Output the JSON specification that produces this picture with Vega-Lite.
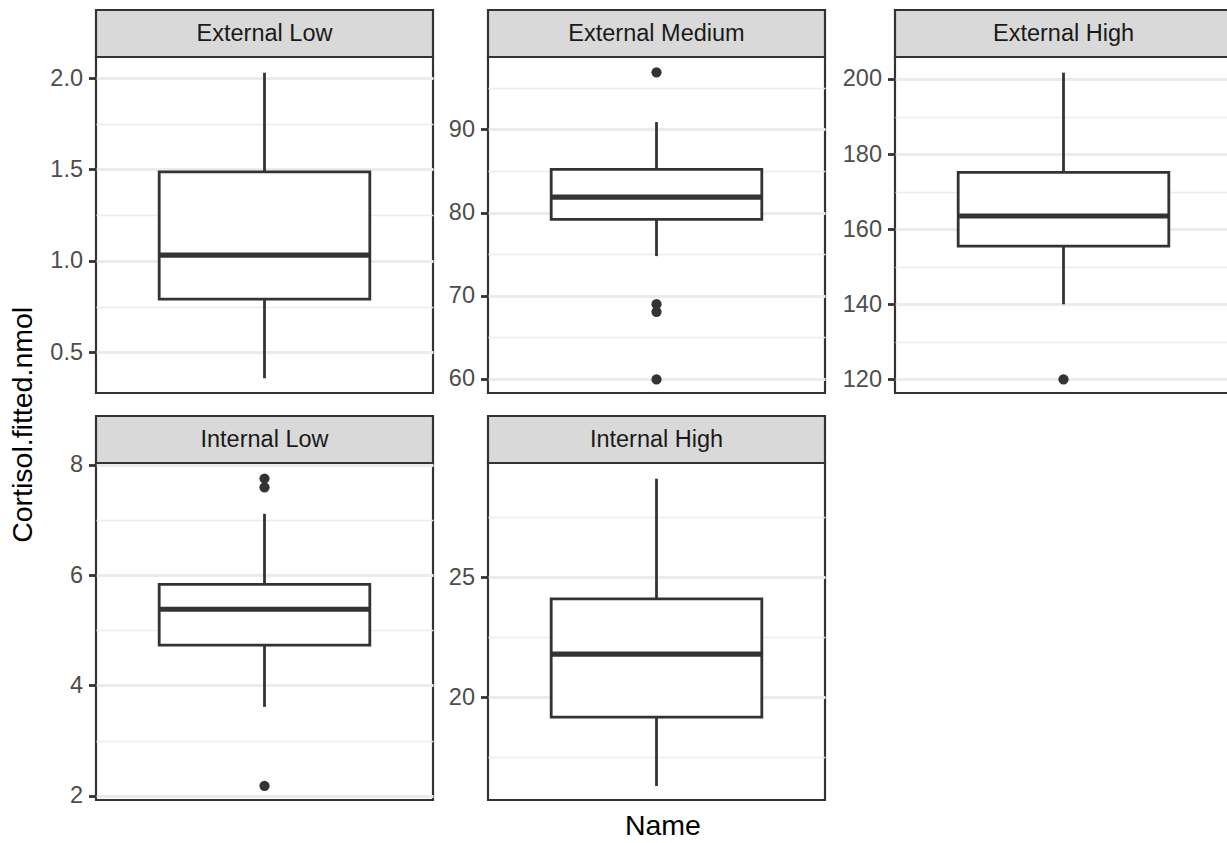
{
  "$schema": "https://vega.github.io/schema/vega-lite/v6.json",
  "padding": {"left": 9, "top": 8, "right": 0, "bottom": 0},
  "background": "white",
  "config": {
    "font": "Liberation Sans",
    "view": {"stroke": "#333333", "strokeWidth": 2.2, "fill": "white"}
  },
  "datasets": {
    "stats": [
      {"panel": "External Low", "lower": 0.358, "q1": 0.79, "median": 1.031, "q3": 1.487, "upper": 2.029},
      {"panel": "External Medium", "lower": 74.76, "q1": 79.17, "median": 81.86, "q3": 85.19, "upper": 90.88},
      {"panel": "External High", "lower": 139.98, "q1": 155.5, "median": 163.5, "q3": 175.15, "upper": 201.68},
      {"panel": "Internal Low", "lower": 3.61, "q1": 4.73, "median": 5.38, "q3": 5.83, "upper": 7.11},
      {"panel": "Internal High", "lower": 16.3, "q1": 19.17, "median": 21.8, "q3": 24.1, "upper": 29.1}
    ],
    "outliers": [
      {"panel": "External Medium", "value": 96.86},
      {"panel": "External Medium", "value": 68.98},
      {"panel": "External Medium", "value": 68.06},
      {"panel": "External Medium", "value": 59.93},
      {"panel": "External High", "value": 120.0},
      {"panel": "Internal Low", "value": 7.75},
      {"panel": "Internal Low", "value": 7.59},
      {"panel": "Internal Low", "value": 2.18}
    ]
  },
  "title": {"text": "Cortisol.fitted.nmol", "orient": "left", "anchor": "middle", "fontSize": 28.5, "fontWeight": "normal", "color": "#000000", "offset": 11},
  "vconcat": [
    {
      "title": {"text": "Name", "orient": "bottom", "anchor": "middle", "fontSize": 28.5, "fontWeight": "normal", "color": "#000000", "offset": 4, "dx": 22},
      "spacing": 19,
      "vconcat": [
        {
          "spacing": 14,
          "hconcat": [
            {
              "spacing": 11,
              "hconcat": [
                {
                  "spacing": 0, "bounds": "flush",
                  "vconcat": [
                    {
                      "width": 337, "height": 47,
                      "view": {"fill": "#D9D9D9", "stroke": "#333333", "strokeWidth": 2.2},
                      "data": {"name": "stats"},
                      "transform": [{"filter": "datum.panel === 'External Low'"}],
                      "mark": {"type": "text", "fontSize": 23.5, "color": "#1A1A1A", "baseline": "middle"},
                      "encoding": {
                        "text": {"field": "panel"},
                        "x": {"field": "panel", "type": "nominal", "axis": null},
                        "y": {"field": "panel", "type": "nominal", "axis": {"labels": false, "ticks": false, "domain": false, "grid": false, "title": null, "minExtent": 40, "maxExtent": 40}}
                      }
                    },
                    {
                      "width": 337, "height": 336,
                      "resolve": {"axis": {"y": "independent"}},
                      "layer": [
                        {
                          "data": {"name": "stats"},
                          "transform": [{"filter": "datum.panel === 'External Low'"}],
                          "mark": {"type": "rule", "color": "#333333", "strokeWidth": 2.8},
                          "encoding": {
                            "x": {"field": "panel", "type": "nominal", "scale": {"type": "band", "paddingInner": 0, "paddingOuter": 0.3}, "axis": {"labels": false, "ticks": false, "domain": false, "title": null, "grid": true, "gridColor": "#EBEBEB", "gridWidth": 2.8, "bandPosition": 0.5, "minExtent": 0, "maxExtent": 0}},
                            "y": {"field": "lower", "type": "quantitative", "scale": {"domain": [0.277, 2.115], "nice": false, "zero": false}, "axis": {"values": [0.5, 1.0, 1.5, 2.0], "format": ".1f", "grid": true, "gridColor": "#EBEBEB", "gridWidth": 2.8, "ticks": true, "tickColor": "#333333", "tickWidth": 2.8, "tickSize": 7.5, "labelPadding": 6, "labelFontSize": 23.5, "labelColor": "#4D4D4D", "labelOverlap": false, "labelFlush": false, "domain": false, "title": null, "minExtent": 40, "maxExtent": 40}},
                            "y2": {"field": "upper"}
                          }
                        },
                        {
                          "data": {"name": "stats"},
                          "transform": [{"filter": "datum.panel === 'External Low'"}],
                          "mark": {"type": "bar", "fill": "white", "stroke": "#333333", "strokeWidth": 2.8},
                          "encoding": {
                            "x": {"field": "panel", "type": "nominal", "axis": null},
                            "y": {"field": "q1", "type": "quantitative", "axis": {"values": [0.75, 1.25, 1.75], "grid": true, "gridColor": "#EBEBEB", "gridWidth": 1.4, "labels": false, "ticks": false, "domain": false, "title": null, "minExtent": 0, "maxExtent": 0}},
                            "y2": {"field": "q3"}
                          }
                        },
                        {
                          "data": {"name": "stats"},
                          "transform": [{"filter": "datum.panel === 'External Low'"}],
                          "mark": {"type": "tick", "color": "#333333", "thickness": 5.2, "size": 210.6, "opacity": 1},
                          "encoding": {
                            "x": {"field": "panel", "type": "nominal", "axis": null},
                            "y": {"field": "median", "type": "quantitative", "axis": null}
                          }
                        }
                      ]
                    }
                  ]
                },
                {
                  "spacing": 0, "bounds": "flush",
                  "vconcat": [
                    {
                      "width": 337, "height": 47,
                      "view": {"fill": "#D9D9D9", "stroke": "#333333", "strokeWidth": 2.2},
                      "data": {"name": "stats"},
                      "transform": [{"filter": "datum.panel === 'External Medium'"}],
                      "mark": {"type": "text", "fontSize": 23.5, "color": "#1A1A1A", "baseline": "middle"},
                      "encoding": {
                        "text": {"field": "panel"},
                        "x": {"field": "panel", "type": "nominal", "axis": null},
                        "y": {"field": "panel", "type": "nominal", "axis": {"labels": false, "ticks": false, "domain": false, "grid": false, "title": null, "minExtent": 40, "maxExtent": 40}}
                      }
                    },
                    {
                      "width": 337, "height": 336,
                      "resolve": {"axis": {"y": "independent"}},
                      "layer": [
                        {
                          "data": {"name": "stats"},
                          "transform": [{"filter": "datum.panel === 'External Medium'"}],
                          "mark": {"type": "rule", "color": "#333333", "strokeWidth": 2.8},
                          "encoding": {
                            "x": {"field": "panel", "type": "nominal", "scale": {"type": "band", "paddingInner": 0, "paddingOuter": 0.3}, "axis": {"labels": false, "ticks": false, "domain": false, "title": null, "grid": true, "gridColor": "#EBEBEB", "gridWidth": 2.8, "bandPosition": 0.5, "minExtent": 0, "maxExtent": 0}},
                            "y": {"field": "lower", "type": "quantitative", "scale": {"domain": [58.3, 98.7], "nice": false, "zero": false}, "axis": {"values": [60, 70, 80, 90], "grid": true, "gridColor": "#EBEBEB", "gridWidth": 2.8, "ticks": true, "tickColor": "#333333", "tickWidth": 2.8, "tickSize": 7.5, "labelPadding": 6, "labelFontSize": 23.5, "labelColor": "#4D4D4D", "labelOverlap": false, "labelFlush": false, "domain": false, "title": null, "minExtent": 40, "maxExtent": 40}},
                            "y2": {"field": "upper"}
                          }
                        },
                        {
                          "data": {"name": "stats"},
                          "transform": [{"filter": "datum.panel === 'External Medium'"}],
                          "mark": {"type": "bar", "fill": "white", "stroke": "#333333", "strokeWidth": 2.8},
                          "encoding": {
                            "x": {"field": "panel", "type": "nominal", "axis": null},
                            "y": {"field": "q1", "type": "quantitative", "axis": {"values": [65, 75, 85, 95], "grid": true, "gridColor": "#EBEBEB", "gridWidth": 1.4, "labels": false, "ticks": false, "domain": false, "title": null, "minExtent": 0, "maxExtent": 0}},
                            "y2": {"field": "q3"}
                          }
                        },
                        {
                          "data": {"name": "stats"},
                          "transform": [{"filter": "datum.panel === 'External Medium'"}],
                          "mark": {"type": "tick", "color": "#333333", "thickness": 5.2, "size": 210.6, "opacity": 1},
                          "encoding": {
                            "x": {"field": "panel", "type": "nominal", "axis": null},
                            "y": {"field": "median", "type": "quantitative", "axis": null}
                          }
                        },
                        {
                          "data": {"name": "outliers"},
                          "transform": [{"filter": "datum.panel === 'External Medium'"}],
                          "mark": {"type": "point", "filled": true, "color": "#333333", "size": 105, "opacity": 1},
                          "encoding": {
                            "x": {"field": "panel", "type": "nominal", "axis": null},
                            "y": {"field": "value", "type": "quantitative", "axis": null}
                          }
                        }
                      ]
                    }
                  ]
                }
              ]
            },
            {
              "spacing": 0, "bounds": "flush",
              "vconcat": [
                {
                  "width": 337, "height": 47,
                  "view": {"fill": "#D9D9D9", "stroke": "#333333", "strokeWidth": 2.2},
                  "data": {"name": "stats"},
                  "transform": [{"filter": "datum.panel === 'External High'"}],
                  "mark": {"type": "text", "fontSize": 23.5, "color": "#1A1A1A", "baseline": "middle"},
                  "encoding": {
                    "text": {"field": "panel"},
                    "x": {"field": "panel", "type": "nominal", "axis": null},
                    "y": {"field": "panel", "type": "nominal", "axis": {"labels": false, "ticks": false, "domain": false, "grid": false, "title": null, "minExtent": 40, "maxExtent": 40}}
                  }
                },
                {
                  "width": 337, "height": 336,
                  "resolve": {"axis": {"y": "independent"}},
                  "layer": [
                    {
                      "data": {"name": "stats"},
                      "transform": [{"filter": "datum.panel === 'External High'"}],
                      "mark": {"type": "rule", "color": "#333333", "strokeWidth": 2.8},
                      "encoding": {
                        "x": {"field": "panel", "type": "nominal", "scale": {"type": "band", "paddingInner": 0, "paddingOuter": 0.3}, "axis": {"labels": false, "ticks": false, "domain": false, "title": null, "grid": true, "gridColor": "#EBEBEB", "gridWidth": 2.8, "bandPosition": 0.5, "minExtent": 0, "maxExtent": 0}},
                        "y": {"field": "lower", "type": "quantitative", "scale": {"domain": [116.35, 205.86], "nice": false, "zero": false}, "axis": {"values": [120, 140, 160, 180, 200], "grid": true, "gridColor": "#EBEBEB", "gridWidth": 2.8, "ticks": true, "tickColor": "#333333", "tickWidth": 2.8, "tickSize": 7.5, "labelPadding": 6, "labelFontSize": 23.5, "labelColor": "#4D4D4D", "labelOverlap": false, "labelFlush": false, "domain": false, "title": null, "minExtent": 40, "maxExtent": 40}},
                        "y2": {"field": "upper"}
                      }
                    },
                    {
                      "data": {"name": "stats"},
                      "transform": [{"filter": "datum.panel === 'External High'"}],
                      "mark": {"type": "bar", "fill": "white", "stroke": "#333333", "strokeWidth": 2.8},
                      "encoding": {
                        "x": {"field": "panel", "type": "nominal", "axis": null},
                        "y": {"field": "q1", "type": "quantitative", "axis": {"values": [130, 150, 170, 190], "grid": true, "gridColor": "#EBEBEB", "gridWidth": 1.4, "labels": false, "ticks": false, "domain": false, "title": null, "minExtent": 0, "maxExtent": 0}},
                        "y2": {"field": "q3"}
                      }
                    },
                    {
                      "data": {"name": "stats"},
                      "transform": [{"filter": "datum.panel === 'External High'"}],
                      "mark": {"type": "tick", "color": "#333333", "thickness": 5.2, "size": 210.6, "opacity": 1},
                      "encoding": {
                        "x": {"field": "panel", "type": "nominal", "axis": null},
                        "y": {"field": "median", "type": "quantitative", "axis": null}
                      }
                    },
                    {
                      "data": {"name": "outliers"},
                      "transform": [{"filter": "datum.panel === 'External High'"}],
                      "mark": {"type": "point", "filled": true, "color": "#333333", "size": 105, "opacity": 1},
                      "encoding": {
                        "x": {"field": "panel", "type": "nominal", "axis": null},
                        "y": {"field": "value", "type": "quantitative", "axis": null}
                      }
                    }
                  ]
                }
              ]
            }
          ]
        },
        {
          "spacing": 11,
          "hconcat": [
            {
              "spacing": 0, "bounds": "flush",
              "vconcat": [
                {
                  "width": 337, "height": 47,
                  "view": {"fill": "#D9D9D9", "stroke": "#333333", "strokeWidth": 2.2},
                  "data": {"name": "stats"},
                  "transform": [{"filter": "datum.panel === 'Internal Low'"}],
                  "mark": {"type": "text", "fontSize": 23.5, "color": "#1A1A1A", "baseline": "middle"},
                  "encoding": {
                    "text": {"field": "panel"},
                    "x": {"field": "panel", "type": "nominal", "axis": null},
                    "y": {"field": "panel", "type": "nominal", "axis": {"labels": false, "ticks": false, "domain": false, "grid": false, "title": null, "minExtent": 40, "maxExtent": 40}}
                  }
                },
                {
                  "width": 337, "height": 337,
                  "resolve": {"axis": {"y": "independent"}},
                  "layer": [
                    {
                      "data": {"name": "stats"},
                      "transform": [{"filter": "datum.panel === 'Internal Low'"}],
                      "mark": {"type": "rule", "color": "#333333", "strokeWidth": 2.8},
                      "encoding": {
                        "x": {"field": "panel", "type": "nominal", "scale": {"type": "band", "paddingInner": 0, "paddingOuter": 0.3}, "axis": {"labels": false, "ticks": false, "domain": false, "title": null, "grid": true, "gridColor": "#EBEBEB", "gridWidth": 2.8, "bandPosition": 0.5, "minExtent": 0, "maxExtent": 0}},
                        "y": {"field": "lower", "type": "quantitative", "scale": {"domain": [1.922, 8.031], "nice": false, "zero": false}, "axis": {"values": [2, 4, 6, 8], "grid": true, "gridColor": "#EBEBEB", "gridWidth": 2.8, "ticks": true, "tickColor": "#333333", "tickWidth": 2.8, "tickSize": 7.5, "labelPadding": 6, "labelFontSize": 23.5, "labelColor": "#4D4D4D", "labelOverlap": false, "labelFlush": false, "domain": false, "title": null, "minExtent": 40, "maxExtent": 40}},
                        "y2": {"field": "upper"}
                      }
                    },
                    {
                      "data": {"name": "stats"},
                      "transform": [{"filter": "datum.panel === 'Internal Low'"}],
                      "mark": {"type": "bar", "fill": "white", "stroke": "#333333", "strokeWidth": 2.8},
                      "encoding": {
                        "x": {"field": "panel", "type": "nominal", "axis": null},
                        "y": {"field": "q1", "type": "quantitative", "axis": {"values": [3, 5, 7], "grid": true, "gridColor": "#EBEBEB", "gridWidth": 1.4, "labels": false, "ticks": false, "domain": false, "title": null, "minExtent": 0, "maxExtent": 0}},
                        "y2": {"field": "q3"}
                      }
                    },
                    {
                      "data": {"name": "stats"},
                      "transform": [{"filter": "datum.panel === 'Internal Low'"}],
                      "mark": {"type": "tick", "color": "#333333", "thickness": 5.2, "size": 210.6, "opacity": 1},
                      "encoding": {
                        "x": {"field": "panel", "type": "nominal", "axis": null},
                        "y": {"field": "median", "type": "quantitative", "axis": null}
                      }
                    },
                    {
                      "data": {"name": "outliers"},
                      "transform": [{"filter": "datum.panel === 'Internal Low'"}],
                      "mark": {"type": "point", "filled": true, "color": "#333333", "size": 105, "opacity": 1},
                      "encoding": {
                        "x": {"field": "panel", "type": "nominal", "axis": null},
                        "y": {"field": "value", "type": "quantitative", "axis": null}
                      }
                    }
                  ]
                }
              ]
            },
            {
              "spacing": 0, "bounds": "flush",
              "vconcat": [
                {
                  "width": 337, "height": 47,
                  "view": {"fill": "#D9D9D9", "stroke": "#333333", "strokeWidth": 2.2},
                  "data": {"name": "stats"},
                  "transform": [{"filter": "datum.panel === 'Internal High'"}],
                  "mark": {"type": "text", "fontSize": 23.5, "color": "#1A1A1A", "baseline": "middle"},
                  "encoding": {
                    "text": {"field": "panel"},
                    "x": {"field": "panel", "type": "nominal", "axis": null},
                    "y": {"field": "panel", "type": "nominal", "axis": {"labels": false, "ticks": false, "domain": false, "grid": false, "title": null, "minExtent": 40, "maxExtent": 40}}
                  }
                },
                {
                  "width": 337, "height": 337,
                  "resolve": {"axis": {"y": "independent"}},
                  "layer": [
                    {
                      "data": {"name": "stats"},
                      "transform": [{"filter": "datum.panel === 'Internal High'"}],
                      "mark": {"type": "rule", "color": "#333333", "strokeWidth": 2.8},
                      "encoding": {
                        "x": {"field": "panel", "type": "nominal", "scale": {"type": "band", "paddingInner": 0, "paddingOuter": 0.3}, "axis": {"labels": false, "ticks": false, "domain": false, "title": null, "grid": true, "gridColor": "#EBEBEB", "gridWidth": 2.8, "bandPosition": 0.5, "minExtent": 0, "maxExtent": 0}},
                        "y": {"field": "lower", "type": "quantitative", "scale": {"domain": [15.72, 29.76], "nice": false, "zero": false}, "axis": {"values": [20, 25], "grid": true, "gridColor": "#EBEBEB", "gridWidth": 2.8, "ticks": true, "tickColor": "#333333", "tickWidth": 2.8, "tickSize": 7.5, "labelPadding": 6, "labelFontSize": 23.5, "labelColor": "#4D4D4D", "labelOverlap": false, "labelFlush": false, "domain": false, "title": null, "minExtent": 40, "maxExtent": 40}},
                        "y2": {"field": "upper"}
                      }
                    },
                    {
                      "data": {"name": "stats"},
                      "transform": [{"filter": "datum.panel === 'Internal High'"}],
                      "mark": {"type": "bar", "fill": "white", "stroke": "#333333", "strokeWidth": 2.8},
                      "encoding": {
                        "x": {"field": "panel", "type": "nominal", "axis": null},
                        "y": {"field": "q1", "type": "quantitative", "axis": {"values": [17.5, 22.5, 27.5], "grid": true, "gridColor": "#EBEBEB", "gridWidth": 1.4, "labels": false, "ticks": false, "domain": false, "title": null, "minExtent": 0, "maxExtent": 0}},
                        "y2": {"field": "q3"}
                      }
                    },
                    {
                      "data": {"name": "stats"},
                      "transform": [{"filter": "datum.panel === 'Internal High'"}],
                      "mark": {"type": "tick", "color": "#333333", "thickness": 5.2, "size": 210.6, "opacity": 1},
                      "encoding": {
                        "x": {"field": "panel", "type": "nominal", "axis": null},
                        "y": {"field": "median", "type": "quantitative", "axis": null}
                      }
                    }
                  ]
                }
              ]
            }
          ]
        }
      ]
    }
  ]
}
